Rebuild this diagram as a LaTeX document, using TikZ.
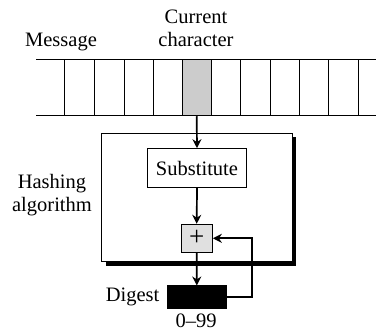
\documentclass[tikz,border=0pt]{standalone}
\usepackage{fontspec}
\setmainfont{Liberation Serif}
\usetikzlibrary{arrows.meta}
\begin{document}
\begin{tikzpicture}[x=1pt,y=-1pt,
  font=\fontsize{20.5}{23}\selectfont,
  thin line/.style={line width=1pt},
  box/.style={draw, line width=1pt, inner sep=0pt, fill=white},
  arr/.style={line width=1.7pt, -{Stealth[length=9pt,width=9pt]}},
  lbl/.style={inner sep=0pt, align=center, anchor=base}]
\useasboundingbox (0,0) rectangle (376,331);
% tape
\node[draw, thin line, fill=black!20, minimum width=29pt, minimum height=56.5pt, inner sep=0pt] (cur) at (196.7,87.5) {};
\draw[thin line] (36,59.3) -- (376,59.3) (36,115.7) -- (376,115.7);
\foreach \x in {64.3,94.3,124,153.3,240.7,270,299.3,328.7,358.3}
  \draw[thin line] (\x,59.3) -- (\x,115.7);
% hashing box with shadow
\fill (105.7,137.3) rectangle (296.3,265.7);
\node[box, minimum width=190.6pt, minimum height=128.4pt] (hash) at (197,197.5) {};
\node[box, minimum width=99.4pt, minimum height=38.6pt] (sub) at (197,168) {Substitute};
\node[box, fill=black!12, minimum width=31.3pt, minimum height=28pt, font=\fontsize{27}{27}\selectfont] (plus) at (196.7,238.3) {+};
\node[draw, fill=black, minimum width=59pt, minimum height=22.6pt, inner sep=0pt] (dig) at (196.8,297) {};
% labels
\node[lbl] (msg) at (61,46.7) {Message};
\node[lbl] (curlbl) at (196,46.7) {Current\\character};
\node[lbl] (hashlbl) at (52,211.7) {Hashing\\algorithm};
\node[lbl, anchor=base east] (diglbl) at (159.5,301.7) {Digest};
\node[lbl, text depth=0pt] (range) at (196,327.5) {0--99};
% connectors
\draw[arr] (cur.south) -- (sub.north);
\draw[arr] (sub.south) -- (plus.north);
\draw[arr] (plus.south) -- (dig.north);
\draw[arr] (dig.east) -- ++(25.7,0) |- (plus.east);
\end{tikzpicture}
\end{document}
